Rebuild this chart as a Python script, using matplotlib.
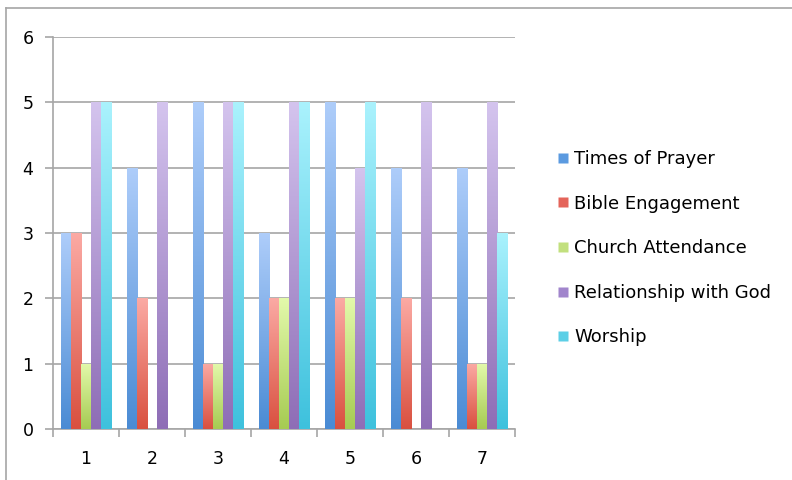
import matplotlib
matplotlib.use('Agg')
import matplotlib.pyplot as plt
import numpy as np
from matplotlib.colors import LinearSegmentedColormap
from matplotlib.lines import Line2D
from matplotlib.patches import Rectangle

# Survey scores per respondent
groups = ['1', '2', '3', '4', '5', '6', '7']
times_of_prayer = [3, 4, 5, 3, 5, 4, 4]
bible_engagement = [3, 2, 1, 2, 2, 2, 1]
church_attendance = [1, 0, 1, 2, 2, 0, 1]
relationship_with_god = [5, 5, 5, 5, 4, 5, 5]
worship = [5, 0, 5, 5, 5, 0, 3]

series = [
    ('Times of Prayer', times_of_prayer),
    ('Bible Engagement', bible_engagement),
    ('Church Attendance', church_attendance),
    ('Relationship with God', relationship_with_god),
    ('Worship', worship),
]

# (top, bottom) gradient colours for each series
shades = [
    ('#aecdfa', '#4a8bd4'),
    ('#fbaaa4', '#d9503f'),
    ('#e3f9ab', '#a6cb52'),
    ('#d4c4ee', '#8e6db6'),
    ('#aaf2fd', '#3ec1dd'),
]
legend_colors = ['#5b9ae0', '#e4645a', '#c2e07e', '#a185cc', '#5ccfe6']

fig = plt.figure(figsize=(7.92, 4.8), dpi=100)
ax = fig.add_axes([53 / 792, 51 / 480, 462 / 792, 392 / 480])

x = np.arange(len(groups))
width = 0.152
grad = np.linspace(1, 0, 256).reshape(-1, 1)

for i, (name, vals) in enumerate(series):
    offs = (i - 2) * width
    bars = ax.bar(x + offs, vals, width, color='none', edgecolor='none', zorder=3)
    cmap = LinearSegmentedColormap.from_list(name, [shades[i][1], shades[i][0]])
    for b in bars:
        h = b.get_height()
        if h <= 0:
            continue
        x0 = b.get_x()
        w = b.get_width()
        # faint shadow on the right edge
        ax.add_patch(Rectangle((x0 + w, 0), 0.012, h, color='#000000', alpha=0.08,
                               lw=0, zorder=2))
        im = ax.imshow(grad, cmap=cmap, extent=(x0, x0 + w, 0, h), aspect='auto',
                       zorder=3, interpolation='bicubic')
        im.set_clip_path(b)

ax.set_xlim(-0.5, len(groups) - 0.5)
ax.set_ylim(0, 6)
ax.set_yticks(range(7))
ax.yaxis.grid(True, color='#a6a6a6', linewidth=1.2, zorder=0)
ax.set_axisbelow(True)

ax.set_xticks(x)
ax.set_xticklabels(groups)
ax.set_xticks(np.arange(-0.5, len(groups)), minor=True)
ax.tick_params(axis='x', which='major', length=0, pad=15, labelsize=12.5)
ax.tick_params(axis='x', which='minor', length=6, color='#a6a6a6', width=1.2)
ax.tick_params(axis='y', length=6, color='#a6a6a6', width=1.2, pad=8, labelsize=12.5)

for s in ['top', 'right']:
    ax.spines[s].set_visible(False)
for s in ['left', 'bottom']:
    ax.spines[s].set_color('#a6a6a6')
    ax.spines[s].set_linewidth(1.2)

handles = [Line2D([], [], marker='s', linestyle='none', markersize=7,
                  markerfacecolor=c, markeredgecolor='none') for c in legend_colors]
fig.legend(handles, [s[0] for s in series], loc='upper left',
           bbox_to_anchor=(538 / 792, 1 - 134 / 480), frameon=False,
           fontsize=13, handletextpad=0.1, handlelength=1.0,
           labelspacing=1.47)

# outer frame (left and top edges)
fig.add_artist(Line2D([6 / 792, 6 / 792], [0, 1 - 8 / 480], color='#a6a6a6', lw=1.2))
fig.add_artist(Line2D([6 / 792, 1], [1 - 8 / 480, 1 - 8 / 480], color='#a6a6a6', lw=1.2))

fig.savefig('out.png', dpi=100)
